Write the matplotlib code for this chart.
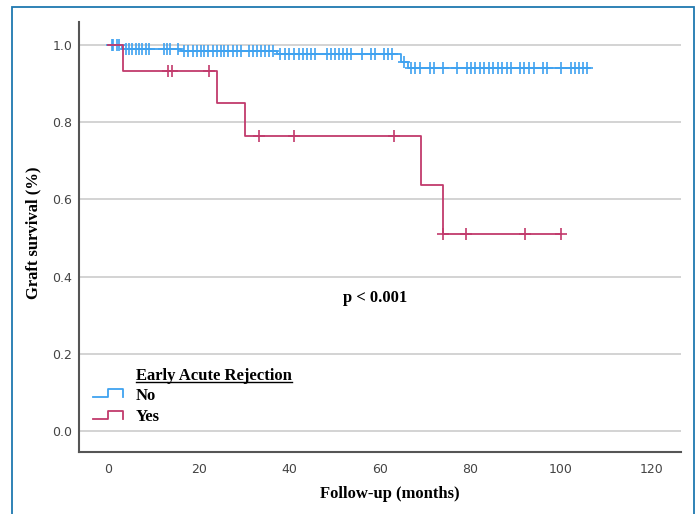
import numpy as np
import matplotlib
matplotlib.use('Agg')
import matplotlib.pyplot as plt
from matplotlib.legend_handler import HandlerBase
from matplotlib.lines import Line2D
from matplotlib.patches import Rectangle

# Kaplan-Meier data (months, survival)
groups = ['No', 'Yes']

no_event_times = [3.0, 16.0, 37.3, 64.6, 66.2]
no_survival = [1.0, 0.991, 0.984, 0.976, 0.957, 0.942]
no_last_followup = 106.5
no_censored = [0.7, 1.1, 1.8, 2.4, 3.8, 4.5, 5.2, 6.0, 6.7, 7.5, 8.2, 8.9,
               12.2, 13.0, 13.7, 15.3, 16.7, 17.6, 18.6, 19.5, 20.4, 21.2,
               22.1, 23.0, 23.9, 24.8, 25.6, 26.5, 27.5, 28.4, 29.2, 31.0,
               31.9, 32.8, 33.6, 34.5, 35.4, 36.4, 38.0, 39.0, 39.9, 41.0,
               42.1, 43.0, 43.9, 44.8, 45.6, 48.2, 49.1, 50.0, 50.9, 51.8,
               52.7, 53.5, 56.1, 58.0, 58.8, 60.9, 61.8, 62.7, 65.3, 66.8,
               67.8, 68.8, 71.1, 72.0, 74.0, 77.1, 79.2, 80.1, 81.0, 82.0,
               83.0, 84.0, 84.9, 86.0, 86.9, 88.0, 88.9, 91.0, 91.9, 93.0,
               94.0, 96.0, 96.9, 100.0, 102.1, 103.0, 103.9, 104.8, 105.8]

yes_event_times = [3.2, 24.0, 30.1, 69.0, 74.0]
yes_survival = [1.0, 0.933, 0.851, 0.764, 0.637, 0.510]
yes_last_followup = 100.0
yes_censored = [13.2, 14.1, 22.2, 33.3, 41.0, 63.1, 74.0, 79.0, 92.0, 100.0]

x_ticks = [0, 20, 40, 60, 80, 100, 120]
y_ticks = [0.0, 0.2, 0.4, 0.6, 0.8, 1.0]

blue = '#3fa2f0'
red = '#c23a6c'
serif = 'Liberation Serif'


# step shaped legend icon like the SPSS output
class StepHandler(HandlerBase):
    def create_artists(self, legend, orig_handle, xdescent, ydescent,
                       width, height, fontsize, trans):
        x0, y0 = -xdescent, -ydescent
        xs = [x0, x0 + width * 0.5, x0 + width * 0.5, x0 + width, x0 + width]
        ys = [y0 + height * 0.15, y0 + height * 0.15, y0 + height * 0.95,
              y0 + height * 0.95, y0 + height * 0.15]
        line = Line2D(xs, ys, color=orig_handle.get_color(), lw=1.3)
        line.set_transform(trans)
        return [line]


def km_curve(ax, times, surv, last, censored, color, label):
    xs = np.r_[0, times, last]
    ys = np.r_[surv, surv[-1]]
    line, = ax.step(xs, ys, where='post', color=color, lw=1.3, label=label)
    # survival level at each censoring time
    idx = np.searchsorted(times, censored, side='right')
    cy = np.array(surv)[idx]
    ax.plot(censored, cy, '+', color=color, ms=8, mew=1.2, ls='none')
    return line


fig = plt.figure(figsize=(7, 5.14), dpi=100)
ax = fig.add_axes([79 / 700, 1 - 452 / 514, 602 / 700, 430 / 514])

h_no = km_curve(ax, no_event_times, no_survival, no_last_followup,
                no_censored, blue, groups[0])
h_yes = km_curve(ax, yes_event_times, yes_survival, yes_last_followup,
                 yes_censored, red, groups[1])

ax.set_xlim(-6.5, 126.5)
ax.set_ylim(-0.055, 1.06)
ax.set_xticks(x_ticks)
ax.set_yticks(y_ticks)
ax.set_yticklabels(['%.1f' % v for v in y_ticks])
ax.tick_params(length=0, labelsize=9, labelcolor='#444444')
ax.tick_params(axis='x', pad=8)
ax.tick_params(axis='y', pad=5)
ax.grid(axis='y', color='#cccccc', lw=1.2)
ax.set_axisbelow(True)
for s in ['top', 'right']:
    ax.spines[s].set_visible(False)
for s in ['left', 'bottom']:
    ax.spines[s].set_color('#555555')
    ax.spines[s].set_linewidth(1.5)

ax.set_xlabel('Follow-up (months)', fontsize=12, fontweight='bold', family=serif)
ax.set_ylabel('Graft survival (%)', fontsize=12, fontweight='bold', family=serif)
ax.xaxis.set_label_coords(0.517, -0.079)
ax.yaxis.set_label_coords(-0.062, 0.509)

ax.text(59, 0.345, 'p < 0.001', fontsize=12, fontweight='bold', family=serif,
        ha='center', va='center')

leg = ax.legend([h_no, h_yes], groups, handler_map={Line2D: StepHandler()},
                loc='lower left', bbox_to_anchor=(0.023, 0.062),
                borderaxespad=0, frameon=False, borderpad=0,
                handlelength=1.8, handleheight=0.6,
                handletextpad=0.75, labelspacing=0.35,
                prop={'family': serif, 'weight': 'bold', 'size': 12})

# legend title, underlined
title = ax.text(0.0947, 0.1674, 'Early Acute Rejection', transform=ax.transAxes,
                fontsize=12, fontweight='bold', family=serif, va='baseline')
fig.canvas.draw()
bb = title.get_window_extent().transformed(ax.transAxes.inverted())
ax.plot([bb.x0, bb.x1], [0.1628, 0.1628], transform=ax.transAxes,
        color='black', lw=1.0, clip_on=False)

# outer blue frame
fig.patches.append(Rectangle((12 / 700, -0.01), 682 / 700, 1 - 7 / 514 + 0.01,
                             transform=fig.transFigure, fill=False,
                             edgecolor='#1f78b0', lw=1.3))

fig.savefig('out.png', dpi=100)
